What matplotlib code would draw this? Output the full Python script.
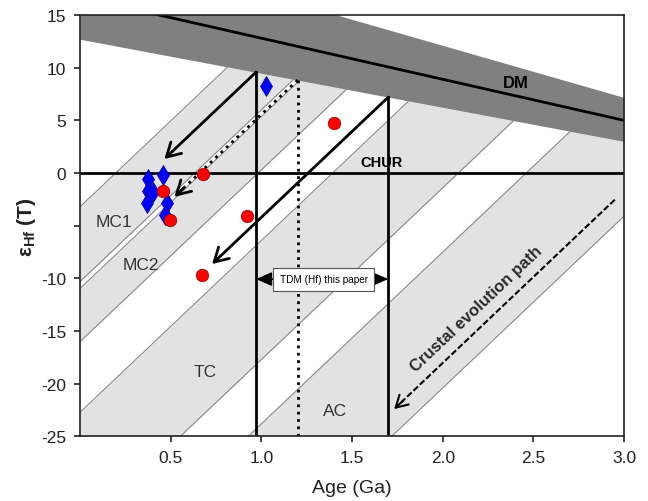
import numpy as np
import matplotlib.pyplot as plt
from matplotlib.patches import FancyArrowPatch

plt.rcParams['font.family'] = ['Liberation Sans', 'DejaVu Sans']
plt.rcParams['mathtext.fontset'] = 'custom'
plt.rcParams['mathtext.rm'] = 'Liberation Sans'
plt.rcParams['mathtext.bf'] = 'Liberation Sans:bold'

# samples (age in Ga, eHf(T))
red_age = [0.678, 0.459, 0.495, 0.919, 0.671, 1.401]
red_ehf = [-0.1, -1.68, -4.46, -4.05, -9.68, 4.74]
blue_age = [0.375, 0.375, 0.403, 0.368, 0.458, 0.478, 0.469, 1.028]
blue_ehf = [-0.57, -1.68, -1.83, -2.85, -0.19, -2.85, -4.0, 8.28]

# depleted mantle: (value at 0 Ga, slope per Ga)
dm_line = (16.7, -3.9)
dm_upper = (22.0, -4.94)
dm_lower = (12.7, -3.23)

# crustal evolution bands, value at 0 Ga of upper / lower edge
crust_slope = 16.3
band_names = ['MC1', 'MC2', 'TC', 'AC']
band_top = [-3.2, -10.95, -22.7, -40.1]
band_bot = [-10.3, -16.0, -34.0, -53.0]
band_lx = [0.186, 0.335, 0.689, 1.406]
band_ly = [-4.62, -8.63, -18.85, -22.5]

# TDM(Hf) model ages and where the arrows end
tdm_age = [0.97, 1.2, 1.7]
tdm_end = [0.465, 0.52, 0.728]
tdm_style = ['-', ':', '-']


def dm_low(t):
    return dm_lower[0] + dm_lower[1] * t


fig = plt.figure(figsize=(6.48, 5.02), dpi=100)
ax = fig.add_axes([0.1235, 0.1285, 0.8395, 0.8396])
ax.set_xlim(0, 3.0)
ax.set_ylim(-25, 15)

x = np.linspace(0, 3, 1201)
low = dm_low(x)

# crustal bands
for top, bot in zip(band_top, band_bot):
    y_hi = np.minimum(top + crust_slope * x, low)
    y_lo = bot + crust_slope * x
    ax.fill_between(x, y_lo, y_hi, where=y_hi > y_lo, interpolate=True,
                    color='#e2e2e2', lw=0, zorder=1)
    for b in (top, bot):
        yl = b + crust_slope * x
        yl = np.where(yl <= low, yl, np.nan)
        ax.plot(x, yl, color='#8a8a8a', lw=0.8, zorder=2)

for name, lx, ly in zip(band_names, band_lx, band_ly):
    ax.text(lx, ly, name, ha='center', va='center', fontsize=12.5, color='#333333', zorder=6)

# DM band
ax.fill_between(x, low, dm_upper[0] + dm_upper[1] * x, color='#808080', lw=0, zorder=3)
ax.plot(x, dm_line[0] + dm_line[1] * x, color='k', lw=2, zorder=4)
ax.text(2.403, 8.6, 'DM', ha='center', va='center', fontsize=12, fontweight='bold', zorder=6)

# CHUR
ax.axhline(0, color='k', lw=2, zorder=4)
ax.text(1.66, 1.04, 'CHUR', ha='center', va='center', fontsize=10.5, fontweight='bold', zorder=6)

# model age lines and evolution arrows
for t, te, ls in zip(tdm_age, tdm_end, tdm_style):
    y0 = dm_low(t)
    ax.plot([t, t], [y0, -25], color='k', lw=2, ls=ls, zorder=4)
    y1 = y0 - crust_slope * (t - te)
    if ls == '-':
        arr = FancyArrowPatch((t, y0), (te, y1), arrowstyle='->,head_length=0.7,head_width=0.4',
                              mutation_scale=14, lw=2, color='k', zorder=5,
                              shrinkA=0, shrinkB=0)
        ax.add_patch(arr)
    else:
        ax.plot([t, te + 0.04], [y0, y1 + 0.04 * crust_slope], color='k', lw=2, ls=ls, zorder=5)
        ax.annotate('', xy=(te, y1), xytext=(te + 0.05, y1 + 0.05 * crust_slope),
                    arrowprops=dict(arrowstyle='->,head_length=0.7,head_width=0.4',
                                    mutation_scale=14, lw=2, color='k',
                                    shrinkA=0, shrinkB=0), zorder=5)

# TDM(Hf) range
ax.annotate('', xy=(tdm_age[0], -10.06), xytext=(tdm_age[2], -10.06),
            arrowprops=dict(arrowstyle='<|-|>,head_length=0.8,head_width=0.35',
                            mutation_scale=12, lw=1.2, color='k', shrinkA=0, shrinkB=0),
            zorder=5)
ax.text(1.343, -10.06, 'TDM (Hf) this paper', ha='center', va='center', fontsize=7.2,
        zorder=7, bbox=dict(boxstyle='square,pad=0.65', fc='white', ec='#555555', lw=0.8))

# crustal evolution path arrow
p0 = (2.949, -2.53)
p1 = (1.732, -22.4)
ax.plot([p0[0], p1[0] + 0.04], [p0[1], p1[1] + 0.04 * crust_slope], color='k', lw=1.5,
        ls=(0, (3, 1.2)), zorder=5)
ax.annotate('', xy=p1, xytext=(p1[0] + 0.05, p1[1] + 0.05 * crust_slope),
            arrowprops=dict(arrowstyle='->,head_length=0.7,head_width=0.4',
                            mutation_scale=12, lw=1.5, color='k', shrinkA=0, shrinkB=0),
            zorder=5)
d = ax.transData.transform((1, crust_slope)) - ax.transData.transform((0, 0))
ang = np.degrees(np.arctan2(d[1], d[0]))
ax.text(2.183, -12.83, 'Crustal evolution path', rotation=ang, rotation_mode='anchor',
        ha='center', va='center', fontsize=12, fontweight='bold', color='#2a2a2a', zorder=6)

# samples
ax.plot(blue_age, blue_ehf, ls='none', marker='d', ms=10, mfc='#0000ff', mec='#00008b',
        mew=0.5, zorder=8)
ax.plot(red_age, red_ehf, ls='none', marker='o', ms=9, mfc='#ff0000', mec='#8b0000',
        mew=0.5, zorder=9)

# axes
yt = list(range(-25, 16, 5))
ax.set_yticks(yt)
ax.set_yticklabels(['' if v == -5 else str(v) for v in yt])
xt = [0.5, 1.0, 1.5, 2.0, 2.5, 3.0]
ax.set_xticks(xt)
ax.set_xticklabels([f'{v:.1f}' for v in xt])
ax.tick_params(direction='out', length=4, width=1.2, labelsize=12.5, colors='#222222', pad=6)
for s in ax.spines.values():
    s.set_linewidth(1.2)
    s.set_color('#222222')
    s.set_zorder(10)

ax.set_xlabel('Age (Ga)', fontsize=14, color='#222222', labelpad=10)
ax.set_ylabel('ε$_{\\mathbf{Hf}}$ (T)', fontsize=15, fontweight='bold', color='#222222', labelpad=2)

fig.savefig('out.png', dpi=100)
